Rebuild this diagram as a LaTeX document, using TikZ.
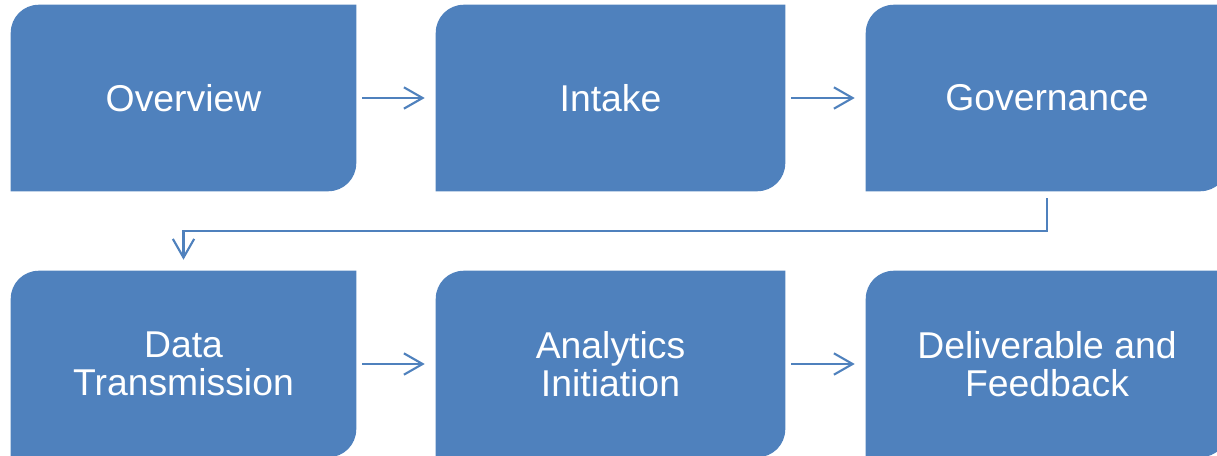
\documentclass[tikz,border=0pt]{standalone}
\usepackage{fontspec}
\setmainfont{Liberation Sans}
\usetikzlibrary{arrows.meta,backgrounds}
\definecolor{stageblue}{HTML}{4F81BD}

\begin{document}
\begin{tikzpicture}[x=0.75pt,y=-0.75pt,
    stage/.style={minimum width=258.75pt,minimum height=139.5pt,inner sep=0pt,
        align=center,text=white,font=\fontsize{28}{28.5}\selectfont},
    flow/.style={draw=stageblue,line width=1.6pt,shorten <=4.5pt,shorten >=8.25pt,
        -{Straight Barb[length=14pt,width=16pt]}}]
        \useasboundingbox (0,0) rectangle (1217,456);
        % top row
        \node[stage] (ov) at (183.5,98) {Overview};
        \node[stage,minimum width=261.75pt] (in) at (610.5,98) {Intake};
        \node[stage,minimum width=271.5pt] (gov) at (1047,98) {Governance};
        % bottom row
        \node[stage] (dt) at (183.5,364) {Data\\Transmission};
        \node[stage,minimum width=261.75pt] (ai) at (610.5,364) {Analytics\\Initiation};
        \node[stage,minimum width=271.5pt] (df) at (1047,364) {Deliverable and\\Feedback};
        % boxes with two rounded corners
        \begin{scope}[on background layer]
          \foreach \n in {ov,in,gov,dt,ai,df}
            \fill[stageblue] (\n.south west) -- ([yshift=-21pt]\n.north west)
              arc[start angle=180,end angle=90,radius=21pt] -- (\n.north east)
              -- ([yshift=21pt]\n.south east)
              arc[start angle=0,end angle=-90,radius=21pt] -- cycle;
        \end{scope}
        \draw[flow] (ov) -- (in);
        \draw[flow] (in) -- (gov);
        \draw[flow,shorten <=5.25pt] (gov.south) -- ++(0,40) -| (dt.north);
        \draw[flow] (dt) -- (ai);
        \draw[flow] (ai) -- (df);
      \end{tikzpicture}
\end{document}
